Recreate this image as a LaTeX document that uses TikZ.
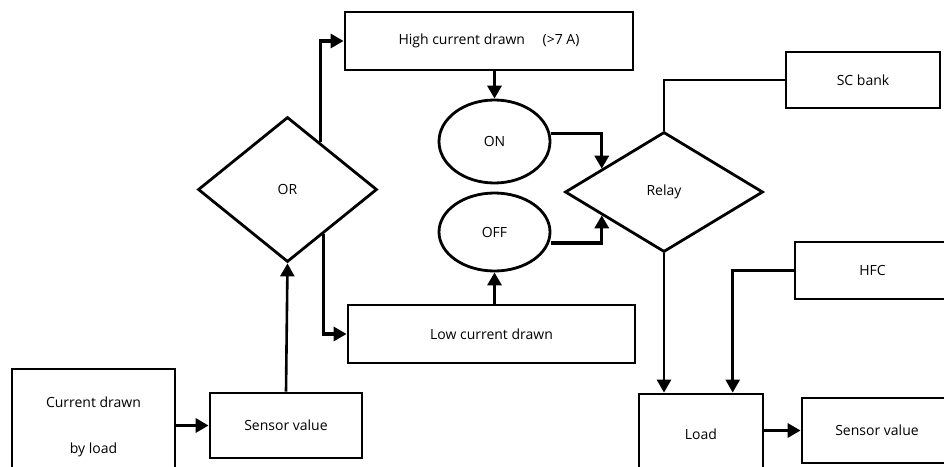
\documentclass[tikz,border=0pt]{standalone}
\usepackage{fontspec}
\setmainfont{Open Sans}
\usepackage{tikz}
\usetikzlibrary{shapes,arrows,positioning,calc,arrows.meta}
\tikzstyle{block} = [rectangle, draw, line width=2.8pt, inner sep=0pt]
\tikzstyle{decision} = [diamond, draw, line width=2.8pt, inner sep=0pt]
\tikzstyle{state} = [ellipse, draw, line width=2.8pt, inner sep=0pt]
\tikzstyle{arrow} = [-{Triangle[length=13pt,width=14pt]}, line width=3.2pt]
\tikzstyle{link} = [line width=2.2pt]

\begin{document}
\begin{tikzpicture}[x=1pt, y=-1pt, font=\fontsize{14}{16}\selectfont]
    \useasboundingbox (0,0) rectangle (944,466);

    % Measuring side
    \node[block, minimum width=163pt, minimum height=116pt, align=center] (loadcur) at (93.5,427) {Current drawn\\[30pt]by load};
    \node[block, minimum width=152pt, minimum height=65pt] (sensin) at (286,425.5) {Sensor value};
    \node[decision, minimum width=179pt, minimum height=145pt] (or) at (287.5,189.5) {OR};

    % Current level
    \node[block, minimum width=288pt, minimum height=58pt] (high) at (489,41) {High current drawn \hspace{14pt}(>7 A)};
    \node[block, minimum width=287pt, minimum height=58pt] (low) at (491.5,334) {Low current drawn};

    % Switch states
    \node[state, minimum width=111pt, minimum height=83pt] (on) at (494.5,141.5) {ON};
    \node[state, minimum width=111pt, minimum height=78pt] (off) at (494.5,232) {OFF};

    % Relay and sources
    \node[decision, minimum width=198pt, minimum height=120pt] (relay) at (664,192) {Relay};
    \node[block, minimum width=154pt, minimum height=56pt] (scbank) at (863,80) {SC bank};
    \node[block, minimum width=155pt, minimum height=57pt] (hfc) at (872.5,270.5) {HFC};

    % Output side
    \node[block, minimum width=124pt, minimum height=80pt] (load) at (701,434) {Load};
    \node[block, minimum width=150pt, minimum height=65pt] (sensout) at (877,430.5) {Sensor value};

    \coordinate (orup) at ($(or.north)!0.36!(or.east)$);
    \coordinate (ordown) at ($(or.south)!0.4!(or.east)$);
    \coordinate (relayup) at ($(relay.west)!0.38!(relay.north)$);
    \coordinate (relaydown) at ($(relay.west)!0.38!(relay.south)$);
    \coordinate (hfcin) at ($(load.north)!0.5!(load.north east)$);

    % Connections
    \draw[arrow] (loadcur.east |- sensin.west) -- (sensin.west);
    \draw[arrow, line width=2.6pt] (sensin.north) -- (or.south);
    \draw[arrow] (orup) |- (high.west);
    \draw[arrow] (ordown) |- (low.west);
    \draw[arrow] (on.north |- high.south) -- (on.north);
    \draw[arrow] (off.south |- low.north) -- (off.south);
    \draw[arrow] ([yshift=8pt]on.east) -| (relayup);
    \draw[arrow] ([yshift=-11pt]off.east) -| (relaydown);
    \draw[link] (scbank.west) -| (relay.north);
    \draw[arrow, line width=2.6pt] (relay.south) -- (relay.south |- load.north);
    \draw[arrow, line width=2.6pt] (hfc.west) -| (hfcin);
    \draw[arrow] (load.east |- sensout.west) -- (sensout.west);
\end{tikzpicture}
\end{document}
